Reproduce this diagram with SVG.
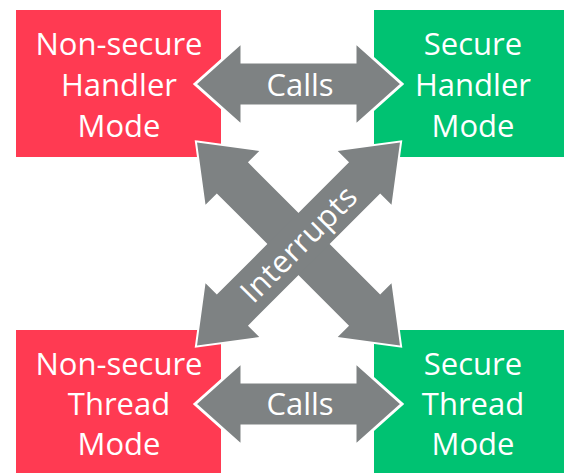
<svg xmlns="http://www.w3.org/2000/svg" xmlns:xlink="http://www.w3.org/1999/xlink" width="564" height="473" viewBox="0 0 564 473">
  <style>
    .ns { fill: #ff3a52; }
    .s { fill: #00c272; }
    .lbl { font-family: "Open Sans", "Liberation Sans", sans-serif; font-size: 31px; fill: #ffffff; text-anchor: middle; }
    .arrow { fill: #7e8283; stroke: #ffffff; stroke-width: 3; stroke-linejoin: miter; }
    .halo { fill: #ffffff; stroke: #ffffff; stroke-width: 4; }
    .body { fill: #7e8283; stroke: none; }
  </style>
  <defs>
    <!-- double-headed arrow along x, centred on the origin -->
    <path id="xarrow" d="M-143.5,0 L-93.5,-38 L-93.5,-22 L93.5,-22 L93.5,-38 L143.5,0 L93.5,38 L93.5,22 L-93.5,22 L-93.5,38 Z"/>
  </defs>

  <g id="nonsecure-handler">
    <rect class="ns" x="16" y="10" width="205" height="147"/>
    <text class="lbl" x="119" y="55">Non-secure</text>
    <text class="lbl" x="119" y="96">Handler</text>
    <text class="lbl" x="119" y="137">Mode</text>
  </g>
  <g id="secure-handler">
    <rect class="s" x="374" y="10" width="190" height="147"/>
    <text class="lbl" x="473" y="55">Secure</text>
    <text class="lbl" x="473" y="96">Handler</text>
    <text class="lbl" x="473" y="137">Mode</text>
  </g>
  <g id="nonsecure-thread">
    <rect class="ns" x="16" y="330" width="205" height="143"/>
    <text class="lbl" x="119" y="375">Non-secure</text>
    <text class="lbl" x="119" y="415">Thread</text>
    <text class="lbl" x="119" y="455">Mode</text>
  </g>
  <g id="secure-thread">
    <rect class="s" x="374" y="330" width="190" height="143"/>
    <text class="lbl" x="473" y="375">Secure</text>
    <text class="lbl" x="473" y="415">Thread</text>
    <text class="lbl" x="473" y="455">Mode</text>
  </g>

  <g id="connectors">
    <!-- handler-level calls -->
    <path class="arrow" d="M195,84 L242,42 L242,62 L355,62 L355,42 L402,84 L355,126 L355,106 L242,106 L242,126 Z"/>
    <text class="lbl" x="300" y="96">Calls</text>
    <!-- thread-level calls -->
    <path class="arrow" d="M195,404 L242,362 L242,382 L355,382 L355,362 L402,404 L355,446 L355,426 L242,426 L242,446 Z"/>
    <text class="lbl" x="300" y="415">Calls</text>
    <!-- interrupts: crossing diagonals, outlined only on the outside -->
    <g transform="translate(298.5,244)">
      <use class="halo" xlink:href="#xarrow" transform="rotate(45)"/>
      <use class="halo" xlink:href="#xarrow" transform="rotate(-45)"/>
      <use class="body" xlink:href="#xarrow" transform="rotate(45)"/>
      <use class="body" xlink:href="#xarrow" transform="rotate(-45)"/>
      <text class="lbl" x="0" y="11" transform="rotate(-45)" textLength="150" lengthAdjust="spacing">Interrupts</text>
    </g>
  </g>
</svg>
